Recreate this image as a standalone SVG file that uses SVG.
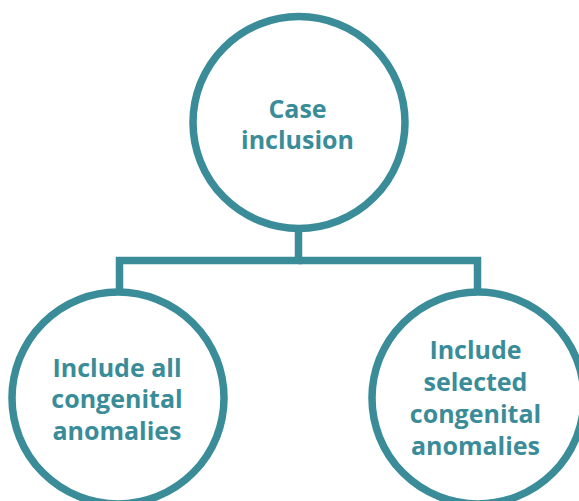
<svg xmlns="http://www.w3.org/2000/svg" width="579" height="501" viewBox="0 0 579 501">
<style>
.node{fill:#fff;stroke:#3a8c99;stroke-width:7.5}
.conn{fill:none;stroke:#3a8c99;stroke-width:7.5;stroke-linejoin:miter;stroke-linecap:butt}
.lbl{font-family:"Open Sans","Noto Sans",sans-serif;font-weight:bold;font-size:25px;fill:#3a8c99;text-anchor:middle}
</style>
<rect width="579" height="501" fill="#fff"/>
<g id="connectors">
<path class="conn" d="M298.5 228 V260.5 H119.5 V292"/>
<path class="conn" d="M298.5 260.5 H477.5 V292"/>
</g>
<g id="case-inclusion">
<circle class="node" cx="299" cy="122.5" r="106"/>
<text class="lbl" x="297.5" y="118">Case</text>
<text class="lbl" x="297.5" y="149">inclusion</text>
</g>
<g id="include-all">
<circle class="node" cx="118" cy="398" r="106"/>
<text class="lbl" x="117" y="377">Include all</text>
<text class="lbl" x="117" y="408">congenital</text>
<text class="lbl" x="117" y="439.5">anomalies</text>
</g>
<g id="include-selected">
<circle class="node" cx="478" cy="398" r="106"/>
<text class="lbl" x="475.5" y="359">Include</text>
<text class="lbl" x="475.5" y="391">selected</text>
<text class="lbl" x="475.5" y="423">congenital</text>
<text class="lbl" x="475.5" y="455">anomalies</text>
</g>
</svg>
